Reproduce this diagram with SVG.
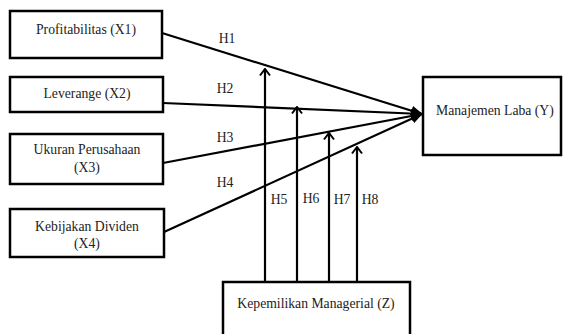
<svg xmlns="http://www.w3.org/2000/svg" width="564" height="334" viewBox="0 0 564 334">
<defs>
<style>
.box{fill:#fff;stroke:#000;stroke-width:2.5}
.t{font-family:'Liberation Serif','Times New Roman',serif;font-size:13.7px;fill:#222;text-anchor:middle}
.s{text-anchor:start}
.l{fill:none;stroke:#000;stroke-width:2.2}
</style>
<marker id="fill" markerWidth="12" markerHeight="10" refX="11" refY="5" orient="auto" markerUnits="userSpaceOnUse">
<path d="M0,0 L12,5 L0,10 Z" fill="#000"/>
</marker>
<marker id="open" markerWidth="12" markerHeight="10" refX="6" refY="1.5" orient="0" markerUnits="userSpaceOnUse">
<path d="M1,8 L6,1.5 L11,8" fill="none" stroke="#000" stroke-width="2"/>
</marker>
</defs>
<rect width="564" height="334" fill="#fff"/>
<g id="connectors">
<line class="l" x1="162" y1="33" x2="422" y2="114" marker-end="url(#fill)"/>
<line class="l" x1="163" y1="103" x2="422" y2="114" marker-end="url(#fill)"/>
<line class="l" x1="163" y1="163" x2="422" y2="114" marker-end="url(#fill)"/>
<line class="l" x1="164" y1="232" x2="422" y2="114" marker-end="url(#fill)"/>
<line class="l" x1="265" y1="282" x2="265" y2="69" marker-end="url(#open)"/>
<line class="l" x1="297" y1="282" x2="297" y2="107" marker-end="url(#open)"/>
<line class="l" x1="329" y1="282" x2="329" y2="133" marker-end="url(#open)"/>
<line class="l" x1="357" y1="282" x2="357" y2="147" marker-end="url(#open)"/>
<text class="t" x="227" y="43">H1</text>
<text class="t" x="225" y="93">H2</text>
<text class="t" x="225" y="142">H3</text>
<text class="t" x="225" y="187">H4</text>
<text class="t" x="279" y="204">H5</text>
<text class="t" x="311" y="203">H6</text>
<text class="t" x="342" y="204">H7</text>
<text class="t" x="370" y="204">H8</text>
</g>
<g id="x1"><rect class="box" x="10" y="11" width="152" height="47"/><text class="t" x="86" y="34">Profitabilitas (X1)</text></g>
<g id="x2"><rect class="box" x="10" y="77" width="153" height="35"/><text class="t" x="87" y="98">Leverange (X2)</text></g>
<g id="x3"><rect class="box" x="10" y="134" width="153" height="50"/><text class="t" x="87" y="154">Ukuran Perusahaan</text><text class="t" x="87" y="172">(X3)</text></g>
<g id="x4"><rect class="box" x="10" y="209" width="154" height="48"/><text class="t" x="87" y="231">Kebijakan Dividen</text><text class="t" x="87" y="248">(X4)</text></g>
<g id="y"><rect class="box" x="423" y="77" width="138" height="78"/><text class="t s" x="436" y="115">Manajemen Laba (Y)</text></g>
<g id="z"><rect class="box" x="223" y="282" width="187" height="60"/><text class="t" x="316" y="308">Kepemilikan Managerial (Z)</text></g>
</svg>
